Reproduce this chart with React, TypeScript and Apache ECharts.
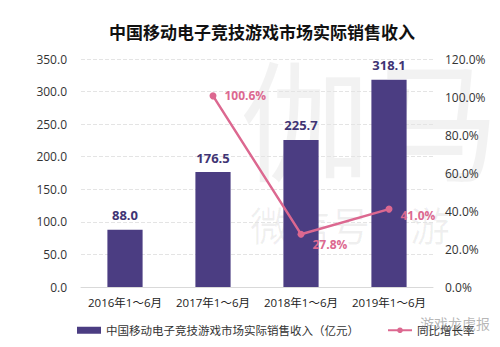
import React, { useEffect, useRef } from "react";
import * as echarts from "echarts";

const categories = ["2016年1～6月", "2017年1～6月", "2018年1～6月", "2019年1～6月"];
const revenue = [88.0, 176.5, 225.7, 318.1];
const growth: (number | null)[] = [null, 100.6, 27.8, 41.0];
const growthLabelOffsets: number[][] = [[0, 0], [0, 0], [0, 10], [0, 6]];
const barName = "中国移动电子竞技游戏市场实际销售收入（亿元）";
const lineName = "同比增长率";

export default function App() {
  const ref = useRef<HTMLDivElement>(null);
  useEffect(() => {
    document.body.style.margin = "0";
    const chart = echarts.init(ref.current!, null, { renderer: "svg" });
    const font = "'Open Sans', 'Noto Sans CJK SC', sans-serif";
    chart.setOption({
      animation: false,
      backgroundColor: "#ffffff",
      textStyle: { fontFamily: font },
      title: {
        text: "中国移动电子竞技游戏市场实际销售收入",
        left: 104,
        top: 19,
        textStyle: { fontSize: 17, fontWeight: "bold", color: "#111", fontFamily: font },
      },
      graphic: [
        {
          type: "text",
          left: 240,
          top: 55,
          z: -10,
          silent: true,
          style: { text: "伽马", fontSize: 130, fill: "rgba(0,0,0,0.05)", fontFamily: font },
        },
        {
          type: "text",
          left: 250,
          top: 205,
          z: -10,
          silent: true,
          style: { text: "微信号：游", fontSize: 40, fill: "rgba(0,0,0,0.06)", fontFamily: font },
        },
        {
          type: "text",
          left: 420,
          top: 316,
          z: 10,
          silent: true,
          style: { text: "游戏龙虎报", fontSize: 14, fill: "rgba(120,120,120,0.55)", fontFamily: font },
        },
      ],
      legend: {
        bottom: 6,
        left: 72,
        itemGap: 28,
        itemWidth: 24,
        itemHeight: 7,
        textStyle: { fontSize: 11.5, color: "#333", fontFamily: font },
        data: [
          { name: barName, icon: "rect" },
          { name: lineName },
        ],
      },
      grid: { left: 81, right: 67, top: 59, bottom: 60 },
      xAxis: {
        type: "category",
        data: categories,
        axisTick: { show: false },
        axisLine: { lineStyle: { color: "#d9d9d9" } },
        axisLabel: { interval: 0, fontSize: 11.5, color: "#222", margin: 10, fontFamily: font },
      },
      yAxis: [
        {
          type: "value",
          min: 0,
          max: 350,
          interval: 50,
          axisLine: { show: false },
          axisTick: { show: false },
          axisLabel: { formatter: (v: number) => v.toFixed(1), fontSize: 12, color: "#333", margin: 14, fontFamily: font },
          splitLine: { lineStyle: { color: "#e4e4e4", type: "dashed" } },
        },
        {
          type: "value",
          min: 0,
          max: 120,
          interval: 20,
          axisLine: { show: false },
          axisTick: { show: false },
          axisLabel: { formatter: (v: number) => v.toFixed(1) + "%", fontSize: 12, color: "#333", margin: 12, fontFamily: font },
          splitLine: { show: false },
        },
      ],
      series: [
        {
          name: barName,
          type: "bar",
          data: revenue,
          barWidth: "40%",
          itemStyle: { color: "#4b3d82" },
          label: {
            show: true,
            position: "top",
            distance: 8,
            formatter: (p: any) => p.value.toFixed(1),
            fontSize: 13,
            fontWeight: "bold",
            color: "#3f3474",
            fontFamily: font,
          },
        },
        {
          name: lineName,
          type: "line",
          yAxisIndex: 1,
          data: growth.map((v, i) => ({ value: v, label: { offset: growthLabelOffsets[i] } })),
          symbol: "circle",
          symbolSize: 7,
          lineStyle: { color: "#dc6890", width: 2.5 },
          itemStyle: { color: "#dc6890" },
          label: {
            show: true,
            position: "right",
            distance: 8,
            formatter: (p: any) => (p.value == null ? "" : Number(p.value).toFixed(1) + "%"),
            fontSize: 12,
            fontWeight: "bold",
            color: "#dc6890",
            fontFamily: font,
          },
        },
      ],
    });
    return () => chart.dispose();
  }, []);
  return <div ref={ref} style={{ width: 500, height: 347 }} />;
}
